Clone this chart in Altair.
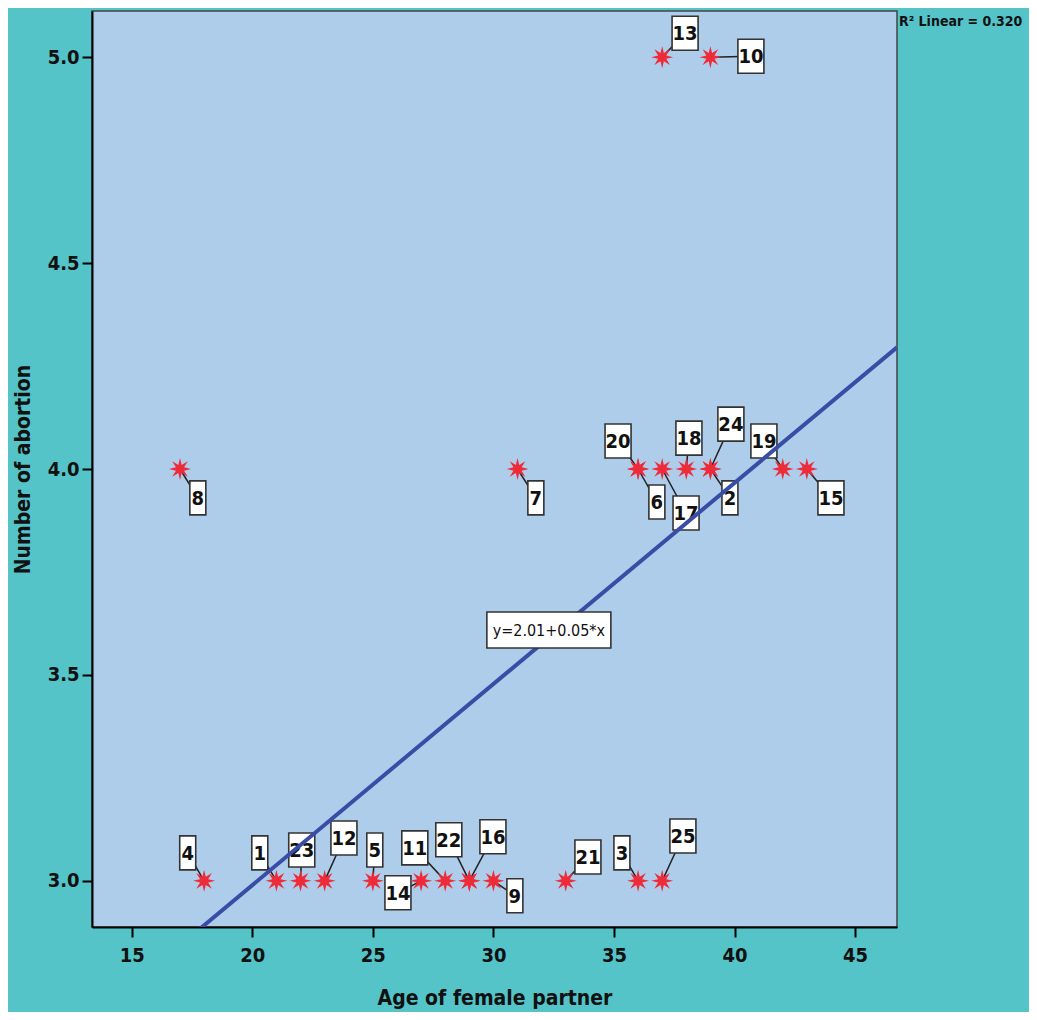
import math
import altair as alt
import pandas as pd

# ---- data ----
case_ids = list(range(1, 26))
ages = [21, 39, 36, 18, 25, 36, 31, 17, 30, 39, 28, 23, 37, 27, 43,
        29, 37, 38, 42, 36, 33, 29, 22, 39, 37]
abortions = [3, 4, 3, 3, 3, 4, 4, 4, 3, 5, 3, 3, 5, 3, 4,
             3, 4, 4, 4, 4, 3, 3, 3, 4, 3]
# label box centres (data units)
label_x = [20.31, 39.81, 35.33, 17.32, 25.08, 36.78, 31.76, 17.74, 30.89, 40.68,
           26.74, 23.80, 37.95, 26.04, 44.00, 29.98, 37.99, 38.11, 41.22, 35.17,
           33.92, 28.15, 22.05, 39.85, 37.86]
label_y = [3.068, 3.930, 3.068, 3.068, 3.075, 3.920, 3.930, 3.930, 2.964, 5.002,
           3.080, 3.104, 5.058, 2.971, 3.930, 3.107, 3.893, 4.075, 4.068, 4.068,
           3.058, 3.100, 3.075, 4.109, 3.109]
x_ticks = [15, 20, 25, 30, 35, 40, 45]
y_ticks = [3.0, 3.5, 4.0, 4.5, 5.0]
x_domain = [13.35, 46.74]
y_domain = [2.888, 5.112]
eq_text = "y=2.01+0.05*x"
eq_pos = [32.30, 3.609]
r2_text = "R² Linear = 0.320"

df = pd.DataFrame({
    "case": case_ids, "age": ages, "abortions": abortions,
    "lx": label_x, "ly": label_y,
})
df["label"] = df["case"].astype(str)
df["digits"] = df["label"].str.len()

FONT = "Liberation Sans Narrow, Arial Narrow, DejaVu Sans Condensed, sans-serif"
TEAL = "#55C4C9"
PLOT_BG = "#AECDEA"
RED = "#EE2B38"
BLUE = "#3A4DA6"

# star (asterisk) shape
pts = []
for i in range(16):
    r = 1.0 if i % 2 == 0 else 0.4
    a = math.pi * i / 8 - math.pi / 2
    pts.append(f"{r*math.cos(a):.3f},{r*math.sin(a):.3f}")
star = "M" + "L".join(pts) + "Z"

def box(hw, hh):
    return f"M{-hw},{-hh}L{hw},{-hh}L{hw},{hh}L{-hw},{hh}Z"

box1 = box(0.47, 1.0)
box2 = box(0.765, 1.0)
box_eq = box(1.0, 0.29)

xs = alt.Scale(domain=x_domain, nice=False, zero=False)
ys = alt.Scale(domain=y_domain, nice=False, zero=False)

X = alt.X("age:Q", scale=xs,
          axis=alt.Axis(values=x_ticks, title="Age of female partner", grid=False))
Y = alt.Y("abortions:Q", scale=ys,
          axis=alt.Axis(values=y_ticks, format=".1f", title="Number of abortion", grid=False))

base = alt.Chart(df)

connectors = base.mark_rule(color="#222222", strokeWidth=1.5).encode(
    x=X, y=Y, x2="lx:Q", y2="ly:Q")

boxes1 = base.transform_filter("datum.digits == 1").mark_point(
    shape=box1, size=34 * 34, filled=True, fill="white", stroke="#333333",
    strokeWidth=1.6, opacity=1).encode(
    x=alt.X("lx:Q", scale=xs), y=alt.Y("ly:Q", scale=ys))
boxes2 = base.transform_filter("datum.digits == 2").mark_point(
    shape=box2, size=34 * 34, filled=True, fill="white", stroke="#333333",
    strokeWidth=1.6, opacity=1).encode(
    x=alt.X("lx:Q", scale=xs), y=alt.Y("ly:Q", scale=ys))

labels = base.mark_text(font=FONT, fontSize=20, fontWeight="bold", color="#111111",
                        baseline="middle", align="center", dy=1).encode(
    x=alt.X("lx:Q", scale=xs), y=alt.Y("ly:Q", scale=ys), text="label:N")

reg = base.transform_regression("age", "abortions", extent=x_domain).mark_line(
    color=BLUE, strokeWidth=4, clip=True).encode(
    x=alt.X("age:Q", scale=xs), y=alt.Y("abortions:Q", scale=ys))

stars = base.mark_point(shape=star, size=22 * 22, filled=True, color=RED,
                        opacity=1).encode(x=X, y=Y)

eq_df = pd.DataFrame({"x": [eq_pos[0]], "y": [eq_pos[1]], "t": [eq_text]})
eq_box = alt.Chart(eq_df).mark_point(
    shape=box_eq, size=124 * 124, filled=True, fill="white", stroke="#333333",
    strokeWidth=1.6, opacity=1).encode(
    x=alt.X("x:Q", scale=xs), y=alt.Y("y:Q", scale=ys))
eq_lbl = alt.Chart(eq_df).mark_text(font=FONT, fontSize=16, color="#111111",
                                    baseline="middle", align="center", dy=1).encode(
    x=alt.X("x:Q", scale=xs), y=alt.Y("y:Q", scale=ys), text="t:N")

r2_df = pd.DataFrame({"t": [r2_text]})
r2 = alt.Chart(r2_df).mark_text(font=FONT, fontSize=14, fontWeight="bold",
                                color="#111111", align="left", baseline="middle").encode(
    x=alt.value(807), y=alt.value(11), text="t:N")

chart = alt.layer(connectors, boxes1, boxes2, labels, reg, stars, eq_box, eq_lbl, r2).properties(
    width=805, height=916,
    padding={"left": 84, "top": 3, "right": 132, "bottom": 85},
    autosize=alt.AutoSizeParams(type="none"),
    background=TEAL,
).configure_view(
    fill=PLOT_BG, stroke="#444444", strokeWidth=1.5
).configure_axis(
    domainColor="#000000", domainWidth=2, tickColor="#000000", tickWidth=2,
    tickSize=10, labelFont=FONT, labelFontSize=20, labelFontWeight="bold",
    labelColor="#111111", titleFont=FONT, titleFontSize=21, titleFontWeight="bold",
    titleColor="#111111"
).configure_axisX(
    labelPadding=8, titlePadding=22
).configure_axisY(
    labelPadding=3, titlePadding=14
)

chart.save("out.html", embed_options={"renderer": "svg", "actions": False})
